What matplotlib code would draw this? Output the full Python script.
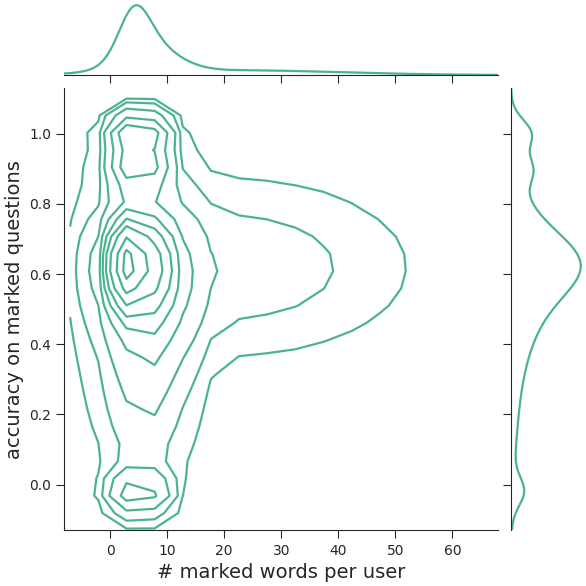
import numpy as np
import matplotlib.pyplot as plt
import seaborn as sns

sns.set_style("ticks")
color = "#4cb38f"

# mixture components: weight, x mean, x sd, y mean, y sd
weights = [0.16, 0.20, 0.20, 0.05, 0.04, 0.03, 0.10]
x_means = [4, 7, 22, 5, 5, 5, 6]
x_sds = [2.5, 5, 18, 3, 3, 3, 5]
y_means = [0.63, 0.60, 0.62, 1.00, 0.90, -0.02, 0.30]
y_sds = [0.08, 0.16, 0.15, 0.04, 0.04, 0.04, 0.20]

xg = np.linspace(-7, 67, 16)
yg = np.linspace(-0.13, 1.15, 27)
X, Y = np.meshgrid(xg, yg)
Z = np.zeros_like(X)
for w, mx, sx, my, sy in zip(weights, x_means, x_sds, y_means, y_sds):
    Z += w * np.exp(-0.5 * ((X - mx) / sx) ** 2 - 0.5 * ((Y - my) / sy) ** 2) / (sx * sy)

fig = plt.figure(figsize=(5.86, 5.86), dpi=100)
ax = fig.add_axes([0.11, 0.095, 0.74, 0.755])
axx = fig.add_axes([0.11, 0.872, 0.74, 0.125], sharex=ax)
axy = fig.add_axes([0.872, 0.095, 0.125, 0.755], sharey=ax)

levels = Z.max() * np.array([0.02, 0.05, 0.1, 0.18, 0.27, 0.37, 0.5, 0.7, 0.9])
ax.contour(X, Y, Z, levels=levels, colors=color, linewidths=1.6)
ax.set_xlim(-8, 68)
ax.set_ylim(-0.13, 1.13)
ax.set_xticks([0, 10, 20, 30, 40, 50, 60])
ax.set_yticks([0.0, 0.2, 0.4, 0.6, 0.8, 1.0])
ax.set_xlabel("# marked words per user", fontsize=14)
ax.set_ylabel("accuracy on marked questions", fontsize=14)
ax.tick_params(length=6)

xf = np.linspace(-8, 68, 400)
yf = np.linspace(-0.13, 1.13, 400)
mxd = np.zeros_like(xf)
myd = np.zeros_like(yf)
for w, mx, sx, my, sy in zip(weights, x_means, x_sds, y_means, y_sds):
    mxd += w * np.exp(-0.5 * ((xf - mx) / sx) ** 2) / sx
    myd += w * np.exp(-0.5 * ((yf - my) / sy) ** 2) / sy
axx.plot(xf, mxd, color=color, lw=1.6)
axy.plot(myd, yf, color=color, lw=1.6)
axx.set_ylim(0, mxd.max() * 1.05)
axy.set_xlim(0, myd.max() * 1.05)

for a in (axx, axy):
    a.tick_params(labelbottom=False, labelleft=False, bottom=False, left=False)
sns.despine(ax=axx, left=True)
sns.despine(ax=axy, bottom=True)
axx.tick_params(axis="x", bottom=True, length=6)
axy.tick_params(axis="y", left=True, length=6)
sns.despine(ax=ax)

fig.savefig("out.png")
